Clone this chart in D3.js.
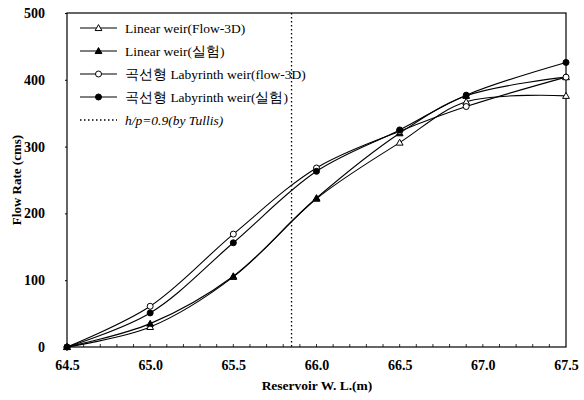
<!DOCTYPE html>
<html><head><meta charset="utf-8">
<script src="https://cdn.jsdelivr.net/npm/d3@7"></script>
<style>
body{margin:0;background:#fff;}
</style></head>
<body><svg id="c" width="584" height="400"></svg>
<script>
const xVals = [64.5, 65.0, 65.5, 66.0, 66.5, 66.9, 67.5];
const linearFlow3D = [0, 30, 105, 222, 306, 367, 376];
const linearExp = [0, 35, 106, 223, 320, 376, 404];
const labyFlow3D = [0, 61, 169, 268, 323, 360, 404];
const labyExp = [0, 51, 156, 263, 325, 377, 426];
const seriesNames = ["Linear weir(Flow-3D)", "Linear weir(실험)", "곡선형 Labyrinth weir(flow-3D)", "곡선형 Labyrinth weir(실험)"];
const tullisX = 65.85;
const tullisLabel = ["h", "/p=0.9(by Tullis)"];
const xTicks = [64.5, 65.0, 65.5, 66.0, 66.5, 67.0, 67.5];
const yTicks = [0, 100, 200, 300, 400, 500];
const xTitle = "Reservoir W. L.(m)";
const yTitle = "Flow Rate (cms)";

const FONT = "Liberation Serif, DejaVu Serif, serif";
const svg = d3.select("#c").attr("font-family", FONT);
const L = 67, R = 566, T = 13, B = 347;
const x = d3.scaleLinear().domain([64.5, 67.5]).range([L, R]);
const y = d3.scaleLinear().domain([0, 500]).range([B, T]);

// frame
svg.append("rect").attr("x", L).attr("y", T).attr("width", R - L).attr("height", B - T)
  .attr("fill", "none").attr("stroke", "#000").attr("stroke-width", 1.2);

// x axis
const gx = svg.append("g").attr("transform", `translate(0,${B})`)
  .call(d3.axisBottom(x).tickValues(xTicks).tickFormat(d3.format(".1f")).tickSize(0).tickPadding(13));
gx.attr("font-family", FONT);
gx.select(".domain").remove();
gx.selectAll("text").attr("font-size", 14).attr("font-weight", "bold").attr("fill", "#000").attr("font-family", FONT);
// minor ticks inside
const minor = d3.range(64.6, 67.45, 0.1);
svg.append("g").selectAll("line").data(minor).join("line")
  .attr("x1", d => x(d)).attr("x2", d => x(d)).attr("y1", B).attr("y2", B - 3)
  .attr("stroke", "#000").attr("stroke-width", 0.8);

// y axis
const gy = svg.append("g").attr("transform", `translate(${L},0)`)
  .call(d3.axisLeft(y).tickValues(yTicks).tickFormat(d3.format("d")).tickSize(2).tickPadding(20));
gy.attr("font-family", FONT);
gy.select(".domain").remove();
gy.selectAll("text").attr("font-size", 14).attr("font-weight", "bold").attr("fill", "#000").attr("font-family", FONT);

svg.append("text").attr("x", 317).attr("y", 390).attr("text-anchor", "middle")
  .attr("font-size", 13.5).attr("font-weight", "bold").text(xTitle);
svg.append("text").attr("transform", "translate(21,180) rotate(-90)").attr("text-anchor", "middle")
  .attr("font-size", 13).attr("font-weight", "bold").text(yTitle);

// tullis dotted line
svg.append("line").attr("x1", x(tullisX)).attr("x2", x(tullisX)).attr("y1", T).attr("y2", B)
  .attr("stroke", "#000").attr("stroke-width", 1.3).attr("stroke-dasharray", "1.5,2.5");

const data = [linearFlow3D, linearExp, labyFlow3D, labyExp];
const markers = ["triOpen", "triFill", "circOpen", "circFill"];
const line = d3.line().x((d, i) => x(xVals[i])).y(d => y(d)).curve(d3.curveCatmullRom.alpha(0.5));

function drawMarker(g, type, cx, cy) {
  if (type.startsWith("tri")) {
    const s = 3.4;
    g.append("path").attr("d", `M${cx},${cy - s}L${cx + s},${cy + s * 0.75}L${cx - s},${cy + s * 0.75}Z`)
      .attr("fill", type === "triFill" ? "#000" : "#fff").attr("stroke", "#000").attr("stroke-width", 1);
  } else {
    g.append("circle").attr("cx", cx).attr("cy", cy).attr("r", 3)
      .attr("fill", type === "circFill" ? "#000" : "#fff").attr("stroke", "#000").attr("stroke-width", 1);
  }
}

data.forEach((vals, k) => {
  svg.append("path").datum(vals).attr("d", line).attr("fill", "none")
    .attr("stroke", "#000").attr("stroke-width", 1.1);
});
data.forEach((vals, k) => {
  const g = svg.append("g");
  vals.forEach((v, i) => drawMarker(g, markers[k], x(xVals[i]), y(v)));
});

// legend
const legRows = [28, 51, 74, 97];
const lg = svg.append("g");
seriesNames.forEach((name, k) => {
  const ry = legRows[k];
  lg.append("line").attr("x1", 80).attr("x2", 117).attr("y1", ry).attr("y2", ry).attr("stroke", "#000").attr("stroke-width", 1.1);
  drawMarker(lg, markers[k], 98.5, ry);
  lg.append("text").attr("x", 125).attr("y", ry + 4.5).attr("font-size", 13.5).text(name);
});
lg.append("line").attr("x1", 80).attr("x2", 117).attr("y1", 120).attr("y2", 120)
  .attr("stroke", "#000").attr("stroke-width", 1.3).attr("stroke-dasharray", "1.5,2.5");
const tt = lg.append("text").attr("x", 125).attr("y", 124.5).attr("font-size", 13.5).attr("font-style", "italic");
tt.append("tspan").text(tullisLabel[0]);
tt.append("tspan").text(tullisLabel[1]);
</script></body></html>
